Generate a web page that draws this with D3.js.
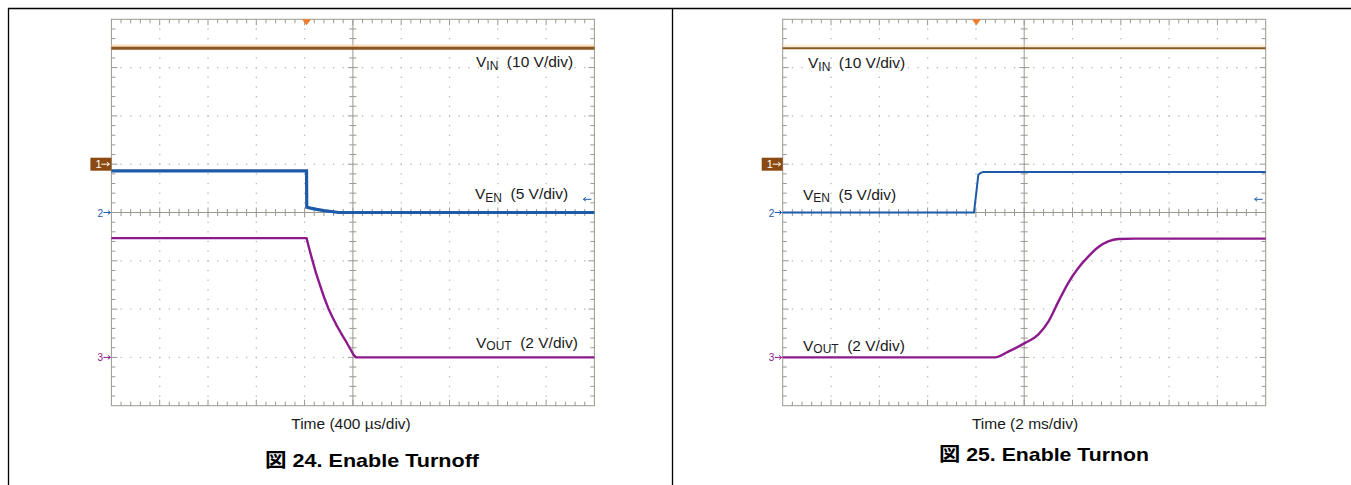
<!DOCTYPE html>
<html><head><meta charset="utf-8">
<script src="https://cdn.jsdelivr.net/npm/d3@7"></script>
<style>
body{margin:0;background:#fff;}
svg{display:block;}
text{font-family:"Liberation Sans",Arial,"Noto Sans CJK JP",sans-serif;}
</style>
</head><body>
<svg id="c" width="1351" height="485"></svg>
<script>
// ---------------- DATA ----------------
// Figure 24 – Enable Turnoff  (time in µs from left edge of screen, 400 µs/div)
const turnoffVinTime  = [0, 4000];
const turnoffVinVolts = [24, 24];
const turnoffEnTime   = [0, 1616, 1618, 1650, 1700, 1760, 1820, 1880, 4000];
const turnoffEnVolts  = [4.3, 4.3, 0.55, 0.45, 0.32, 0.2, 0.1, 0, 0];
const turnoffOutTime  = [0, 1616, 1636, 1660, 1694, 1728, 1762, 1796, 1830, 1864, 1900, 1936, 1970, 2004, 2026, 4000];
const turnoffOutVolts = [4.94, 4.94, 4.55, 4.1, 3.5, 2.98, 2.48, 2.04, 1.67, 1.34, 1.02, 0.72, 0.42, 0.12, 0, 0];

// Figure 25 – Enable Turnon  (time in ms from left edge of screen, 2 ms/div)
const turnonVinTime  = [0, 20];
const turnonVinVolts = [24, 24];
const turnonEnTime   = [0, 7.92, 8.03, 8.10, 8.20, 8.31, 20];
const turnonEnVolts  = [0, 0, 2.35, 3.9, 4.1, 4.2, 4.2];
const turnonOutTime  = [0, 8.80, 9.34, 10.04, 10.58, 11.0, 11.42, 11.82, 12.24, 12.66, 13.06, 13.48, 13.9, 14.58, 20];
const turnonOutVolts = [0, 0, 0.24, 0.6, 0.94, 1.48, 2.32, 3.08, 3.7, 4.18, 4.56, 4.8, 4.9, 4.92, 4.92];

// channel settings: volts/div and ground offset (divisions from centre)
const channelNames   = ["IN", "EN", "OUT"];
const channelScales  = ["(10 V/div)", "(5 V/div)", "(2 V/div)"];
const channelVoltDiv = [10, 5, 2];
const channelOffset  = [1, 0, -3];
const channelIds     = ["1", "2", "3"];

const timeLabels = ["Time (400 µs/div)", "Time (2 ms/div)"];
const timePerDiv = [400, 2];
const triggerTime = [1616, 8.02];
const captions = ["図 24. Enable Turnoff", "図 25. Enable Turnon"];

// ---------------- LAYOUT ----------------
const DIV = 48.3, TOP = 19.3;
const COL = {vin:"#8a5622", vinHalo:"#f6cf9c", en:"#1d5aa8", out:"#8c1a8c", frame:"#9b9890", dot:"#b8b8b8", text:"#1a1a1a"};

const svg = d3.select("#c");
// page frame
svg.append("line").attr("x1",8).attr("x2",1351).attr("y1",8.5).attr("y2",8.5).attr("stroke","#000").attr("stroke-width",1.3);
svg.append("line").attr("x1",8.5).attr("x2",8.5).attr("y1",8).attr("y2",485).attr("stroke","#000").attr("stroke-width",1.3);
svg.append("line").attr("x1",672.5).attr("x2",672.5).attr("y1",8).attr("y2",485).attr("stroke","#000").attr("stroke-width",1.3);

const panels = [
  {x0:111.4, idx:0, vinT:turnoffVinTime, vinV:turnoffVinVolts, enT:turnoffEnTime, enV:turnoffEnVolts, outT:turnoffOutTime, outV:turnoffOutVolts,
   outCurve:d3.curveLinear, halo:0.7,
   labelX:[476,475,476], labelY:[67,199.3,347.5], timeX:351, timeY:428.5, capX:372, capY:467, capLen:214, widths:[3,3.2,2.4]},
  {x0:782.7, idx:1, vinT:turnonVinTime, vinV:turnonVinVolts, enT:turnonEnTime, enV:turnonEnVolts, outT:turnonOutTime, outV:turnonOutVolts,
   outCurve:d3.curveMonotoneX, halo:0.35,
   labelX:[808,803,803], labelY:[68.3,199.5,350.5], timeX:1025, timeY:428.5, capX:1044, capY:461, capLen:210, widths:[2,2,2.4]}
];

panels.forEach(p => drawPanel(p));

function drawPanel(p){
  const g = svg.append("g");
  const x0 = p.x0, x1 = x0 + 10*DIV, y0 = TOP, y1 = TOP + 8*DIV;
  const xDiv = d3.scaleLinear([0,10],[x0,x1]);
  const yDiv = d3.scaleLinear([-4,4],[y1,y0]);
  const tpd = timePerDiv[p.idx];
  const xT = d3.scaleLinear([0,10*tpd],[x0,x1]);
  const yCh = i => d3.scaleLinear([(-4-channelOffset[i])*channelVoltDiv[i], (4-channelOffset[i])*channelVoltDiv[i]],[y1,y0]);

  // grid dots
  const dots = [];
  for (let i=1;i<10;i++){ if(i===5) continue;
    for (let j=1;j<40;j++) dots.push([xDiv(i), yDiv(-4+j/5)]); }
  for (let r=-3;r<=3;r++){ if(r===0) continue;
    for (let j=1;j<50;j++) dots.push([xDiv(j/5), yDiv(r)]); }
  g.append("g").selectAll("rect").data(dots).join("rect")
    .attr("x",d=>d[0]-0.6).attr("y",d=>d[1]-0.6).attr("width",1.3).attr("height",1.3).attr("fill",COL.dot);

  // frame
  g.append("rect").attr("x",x0).attr("y",y0).attr("width",x1-x0).attr("height",y1-y0)
    .attr("fill","none").attr("stroke",COL.frame).attr("stroke-width",1);
  const tk = g.append("g").attr("stroke",COL.frame).attr("stroke-width",1);
  // edge ticks
  d3.range(1,50).forEach(j=>{
    const x = xDiv(j/5), L = (j%5===0)?6:4;
    tk.append("line").attr("x1",x).attr("x2",x).attr("y1",y0).attr("y2",y0+L);
    tk.append("line").attr("x1",x).attr("x2",x).attr("y1",y1).attr("y2",y1-L);
  });
  d3.range(1,40).forEach(j=>{
    const y = yDiv(-4+j/5), L = (j%5===0)?6:4;
    tk.append("line").attr("x1",x0).attr("x2",x0+L).attr("y1",y).attr("y2",y);
    tk.append("line").attr("x1",x1).attr("x2",x1-L).attr("y1",y).attr("y2",y);
  });
  // centre lines with ticks
  tk.append("line").attr("x1",x0).attr("x2",x1).attr("y1",yDiv(0)).attr("y2",yDiv(0));
  tk.append("line").attr("x1",xDiv(5)).attr("x2",xDiv(5)).attr("y1",y0).attr("y2",y1);
  d3.range(1,50).forEach(j=>{
    const x = xDiv(j/5), L = (j%5===0)?5:3.5;
    tk.append("line").attr("x1",x).attr("x2",x).attr("y1",yDiv(0)-L).attr("y2",yDiv(0)+L);
  });
  d3.range(1,40).forEach(j=>{
    const y = yDiv(-4+j/5), L = (j%5===0)?5:3.5;
    tk.append("line").attr("x1",xDiv(5)-L).attr("x2",xDiv(5)+L).attr("y1",y).attr("y2",y);
  });

  // traces
  const line = (xs, ys, sc, curve) => d3.line().curve(curve)(xs.map((t,k)=>[xT(t), sc(ys[k])]));
  const yVin = yCh(0), yEn = yCh(1), yOut = yCh(2);
  g.append("path").attr("d", line(p.vinT,p.vinV,yVin,d3.curveLinear)).attr("transform","translate(0,-2.5)")
    .attr("fill","none").attr("stroke",COL.vinHalo).attr("stroke-width",2.5).attr("opacity",p.halo);
  g.append("path").attr("d", line(p.vinT,p.vinV,yVin,d3.curveLinear))
    .attr("fill","none").attr("stroke",COL.vin).attr("stroke-width",p.widths[0]);
  g.append("path").attr("d", line(p.enT,p.enV,yEn,d3.curveLinear))
    .attr("fill","none").attr("stroke",COL.en).attr("stroke-width",p.widths[1]);
  g.append("path").attr("d", line(p.outT,p.outV,yOut,p.outCurve))
    .attr("fill","none").attr("stroke",COL.out).attr("stroke-width",p.widths[2]).attr("stroke-linejoin","round");

  // trigger marker
  const tx = xT(triggerTime[p.idx]);
  g.append("path").attr("d",`M${tx-4.5},${y0}L${tx+4.5},${y0}L${tx},${y0+6}Z`).attr("fill","#f07c2a");

  // channel ground markers
  const chCol = [COL.vin, COL.en, COL.out];
  channelIds.forEach((id,i)=>{
    const y = yDiv(channelOffset[i]);
    if(i===0){
      g.append("rect").attr("x",x0-21).attr("y",y-6.5).attr("width",21).attr("height",13).attr("fill","#8b4a12");
      g.append("text").attr("x",x0-16).attr("y",y+4).attr("font-size",11).attr("fill","#fff").text(id);
      g.append("path").attr("d",`M${x0-10},${y}H${x0-2}M${x0-4.5},${y-2}L${x0-2},${y}L${x0-4.5},${y+2}`).attr("stroke","#fff").attr("fill","none").attr("stroke-width",1);
    } else {
      g.append("text").attr("x",x0-14).attr("y",y+4).attr("font-size",10).attr("fill",chCol[i]).text(id);
      g.append("path").attr("d",`M${x0-8},${y}H${x0-1}M${x0-3.5},${y-2}L${x0-1},${y}L${x0-3.5},${y+2}`).attr("stroke",chCol[i]).attr("fill","none").attr("stroke-width",1);
    }
  });
  // small offset arrow for channel 2 at right
  const ay = 199.3, ax = x1 - 11;
  g.append("path").attr("d",`M${ax},${ay}H${ax+8}M${ax+2.5},${ay-2}L${ax},${ay}L${ax+2.5},${ay+2}`).attr("stroke",COL.en).attr("fill","none").attr("stroke-width",1);

  // channel labels
  channelNames.forEach((nm,i)=>{
    const t = g.append("text").attr("x",p.labelX[i]).attr("y",p.labelY[i]).attr("font-size",15.5).attr("fill",COL.text);
    t.append("tspan").text("V");
    t.append("tspan").attr("font-size",12).attr("dy",2.8).text(nm);
    t.append("tspan").attr("dy",-2.8).attr("dx",8.5).text(channelScales[i]);
  });

  // time label
  g.append("text").attr("x",p.timeX).attr("y",p.timeY).attr("text-anchor","middle").attr("font-size",15.5).attr("fill",COL.text).text(timeLabels[p.idx]);
  // caption
  g.append("text").attr("x",p.capX).attr("y",p.capY).attr("text-anchor","middle").attr("font-size",19).attr("font-weight","bold")
    .attr("fill","#000").attr("textLength",p.capLen).attr("lengthAdjust","spacingAndGlyphs").text(captions[p.idx]);
}
</script>
</body></html>
